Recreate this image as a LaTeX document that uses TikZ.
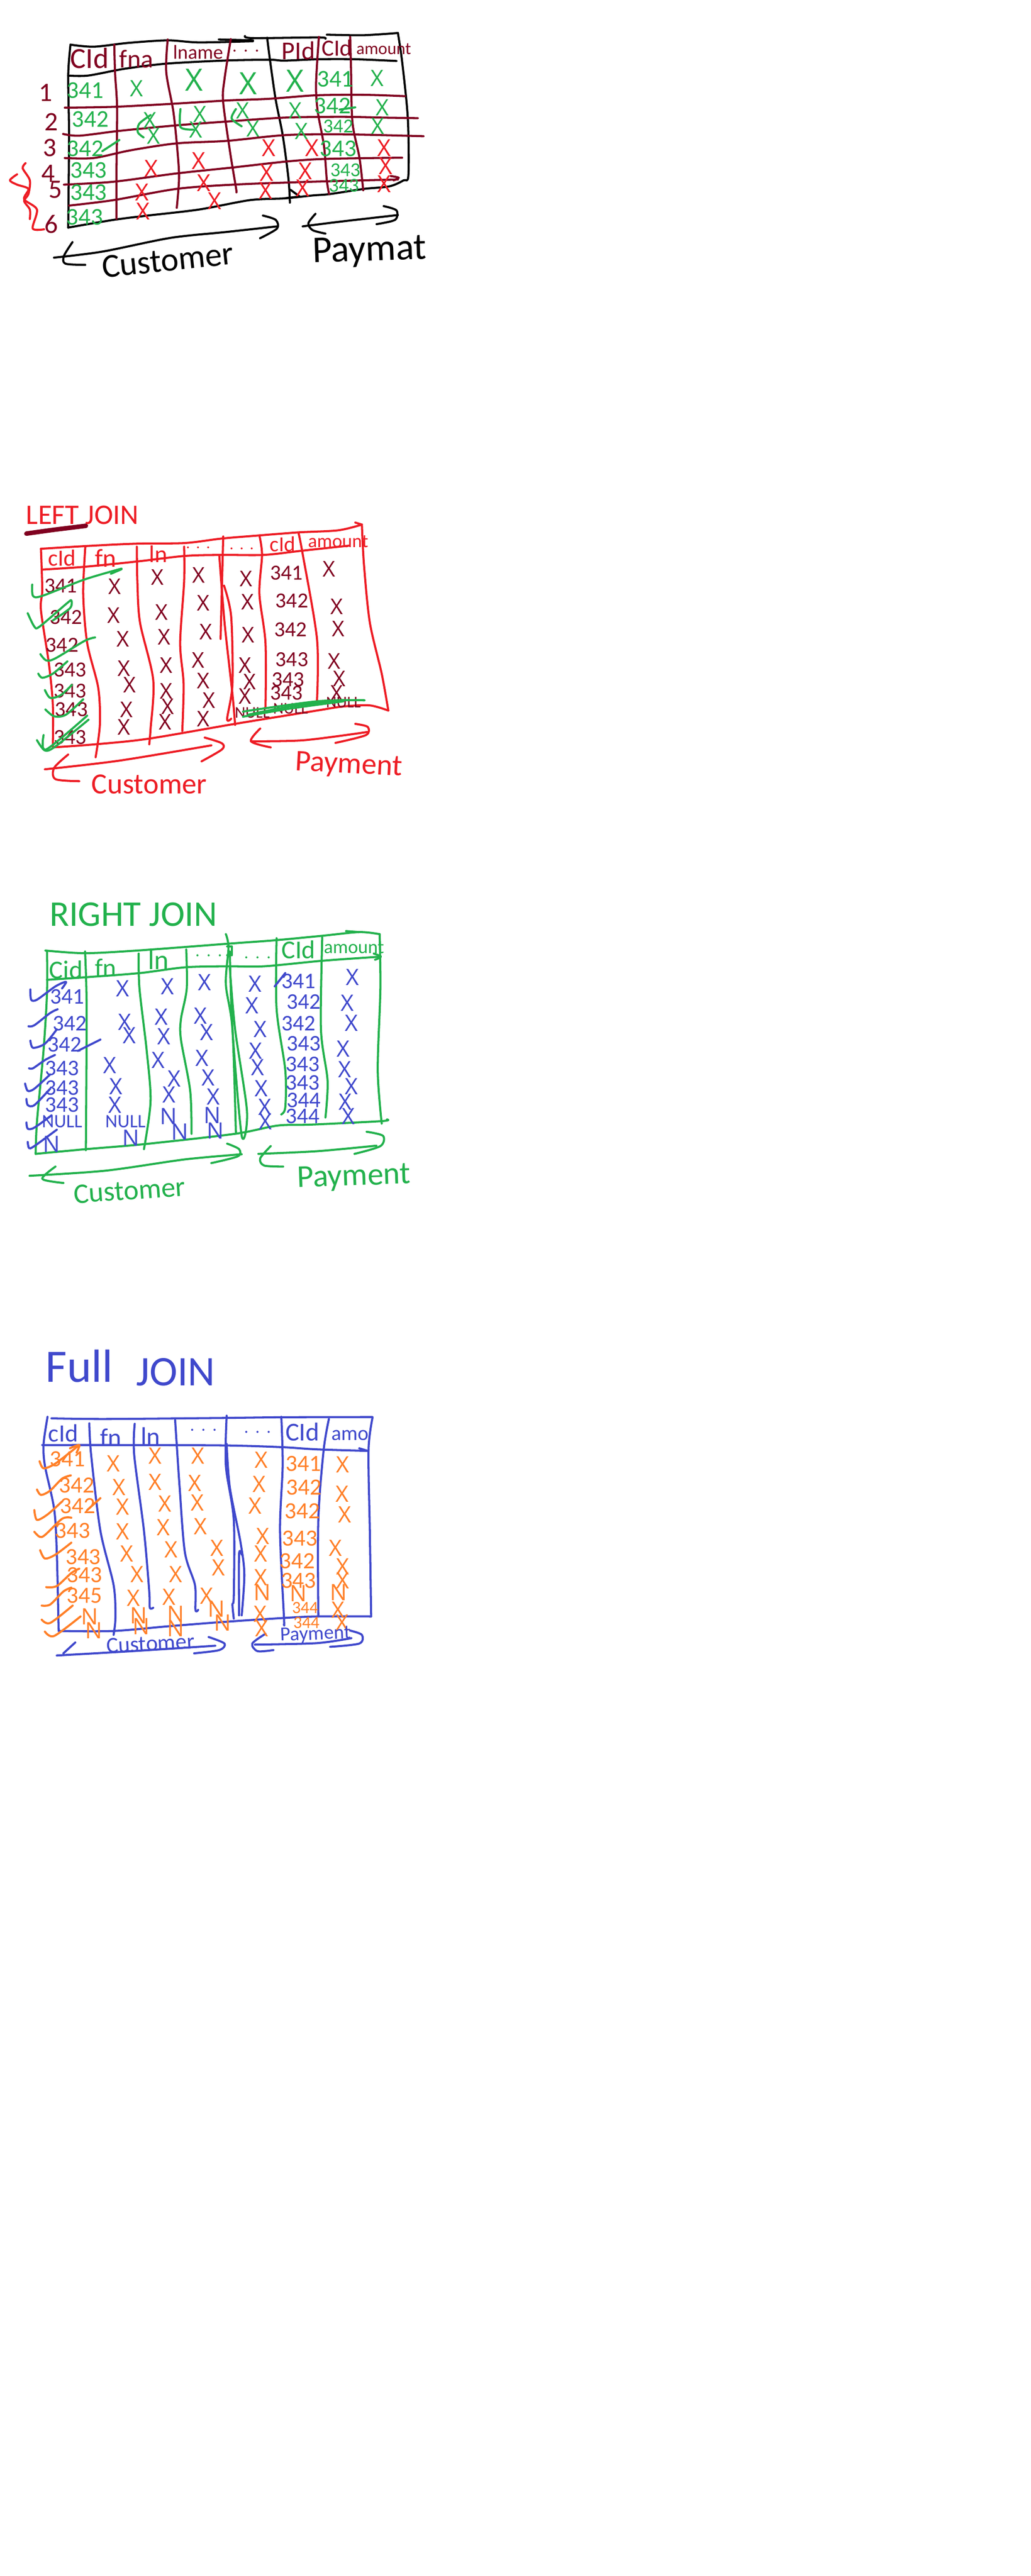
\documentclass[tikz,border=0pt]{standalone}
\usepackage{fontspec}
\setmainfont{Carlito}
\newfontfamily\xfont{Open Sans}
\definecolor{dr}{HTML}{800020}
\definecolor{gr}{HTML}{22B14C}
\definecolor{rd}{HTML}{ED1C24}
\definecolor{bl}{HTML}{3F48CC}
\definecolor{or}{HTML}{FF7F27}
\definecolor{bk}{HTML}{000000}
\tikzset{
  inkline/.style={line width=2.3pt,line cap=round,line join=round},
  lab/.style={inner sep=0pt,outer sep=0pt,font=\fontsize{\the\dimexpr#1pt*95/100\relax}{#1}\selectfont},
  xlab/.style={inner sep=0pt,outer sep=0pt,font=\xfont\fontsize{#1}{#1}\selectfont}
}
\newcommand\ink[2][]{\draw[inkline,#1] plot[smooth,tension=.5] coordinates {#2};}
\newcommand\straight[2][]{\draw[inkline,#1] plot coordinates {#2};}
\newcommand\labs[3]{\foreach \px/\py/\tx [count=\kk] in {#3} \node[#2] (#1\kk) at (\px,\py) {\tx};}
\newcommand\hdrs[3]{\foreach \px/\py/\sz/\tx [count=\kk] in {#3} \node[lab=\sz,#2] (#1\kk) at (\px,\py) {\tx};}
\newcommand\xs[3]{\foreach \px/\py [count=\kk] in {#3} \node[#2] (#1\kk) at (\px,\py) {X};}
\newcommand\dd{.\hspace{.4em}.\hspace{.4em}.}
\begin{document}
\begin{tikzpicture}
\path[fill=white,use as bounding box] (0,0) rectangle (40,-100);
%% ---------- Section 1
\begin{scope}[shift={(0,-0.6)},x=0.011026cm,y=-0.006667cm]
\ink[bk]{(248,170)(330,182)(450,160)(590,145)(700,157)(890,150)}
\ink[bk]{(770,140)(890,145)}
\ink[bk]{(862,120)(890,132)(1120,128)(1145,135)}
\ink[bk]{(1150,112)(1280,115)(1400,102)}
\ink[bk]{(1400,102)(1415,270)(1435,600)(1437,930)(1420,960)(1370,995)(1280,1010)(1160,1040)(1100,1048)(1000,1065)(880,1075)(700,1130)(520,1165)(400,1190)(240,1235)}
\ink[bk]{(248,170)(240,350)(243,700)(240,1235)}
\ink[bk]{(240,350)(310,350)(440,310)(590,280)(800,262)(950,258)(1000,263)(1120,255)(1250,255)(1395,265)}
\ink[bk]{(940,130)(950,260)(970,490)(995,700)(1015,950)(1020,1090)}
\straight[bk]{(1022,1015)(1055,1055)}
\straight[bk]{(1000,1065)(1050,1055)}
\foreach \c in {
 {(402,170)(405,340)(412,540)(410,900)(410,1185)},
 {(590,140)(585,330)(610,560)(625,800)(630,950)(622,1120)},
 {(812,138)(790,370)(785,500)(810,800)(830,1000)(832,1030)},
 {(1122,125)(1112,400)(1118,560)(1140,760)(1150,960)(1158,1040)},
 {(1232,125)(1235,300)(1240,620)(1265,830)(1278,1018)},
 {(228,537)(400,532)(600,515)(800,495)(950,485)(1110,465)(1280,462)(1425,470)},
 {(222,690)(280,700)(420,672)(620,640)(820,615)(1000,595)(1200,590)(1350,595)(1470,598)},
 {(228,830)(330,830)(460,785)(620,745)(800,730)(1000,697)(1200,692)(1490,703)},
 {(225,985)(400,968)(620,920)(820,885)(1010,850)(1150,835)(1415,828)},
 {(243,1107)(400,1075)(620,1010)(820,985)(1100,968)(1400,955)},
 {(1375,935)(1403,945)(1385,960)}}
 {\draw[inkline,dr] plot[smooth,tension=.5] coordinates {\c};}
\hdrs{ah}{dr}{315/250/34/CId,480/255/30/fna,697/215/23/lname,865/205/20/\dd,1050/205/30/PId,1185/190/27/CId,1350/195/20/amount}
\labs{ar}{lab=31,dr}{160/450/1,180/620/2,175/770/3,170/920/4,195/1015/5,180/1215/6}
\labs{ag}{lab=28,gr}{300/435/341,318/605/342,300/775/342,312/900/343,312/1030/343,298/1175/343,1180/370/341,1170/525/342,1190/775/343}
\labs{ag2}{lab=23,gr}{1190/645/342,1215/900/343,1210/990/343}
\xs{ax}{xlab=25,gr}{480/425,1327/365,1040/555,1345/535,1330/645,528/610,540/700,703/575,690/665,855/555,890/660,1060/675}
\xs{az}{xlab=34,gr}{683/375,873/395,1038/380}
\xs{ay}{xlab=26,rd}{945/770,1098/770,1352/770,533/890,700/845,1357/875,938/915,1075/905,500/1030,718/975,935/1020,1065/1005,1352/980,503/1140,755/1080}
\ink[gr]{(530,580)(490,630)(485,680)(505,710)}
\ink[gr]{(635,545)(635,650)(680,665)}
\ink[gr]{(830,545)(815,600)(850,645)}
\ink[gr]{(360,790)(420,725)}
\ink[gr]{(1195,548)(1250,535)}
\ink[rd]{(90,860)(80,890)(105,960)(100,1040)(85,1080)(105,1130)(105,1185)}
\ink[rd]{(60,925)(35,960)(60,985)(100,1010)(85,1070)(130,1130)(115,1240)(155,1245)}
\ink[bk]{(190,1410)(360,1375)(600,1295)(800,1260)(975,1228)}
\ink[bk]{(925,1165)(970,1190)(975,1240)(915,1297)}
\ink[bk]{(255,1320)(225,1400)(230,1445)(300,1452)}
\ink[bk]{(1065,1228)(1200,1200)(1400,1162)}
\ink[bk]{(1110,1155)(1085,1210)(1100,1250)(1145,1270)}
\ink[bk]{(1350,1110)(1395,1135)(1390,1190)(1325,1215)}
\node[lab=39,bk,rotate=6] (a-cust) at (590,1425) {Customer};
\node[lab=44,bk,rotate=2] (a-pay) at (1300,1375) {Paymat};
\end{scope}
%% ---------- Section 2
\begin{scope}[shift={(0,-18.6)},x=0.010256cm,y=-0.007949cm]
\node[lab=33,rd] (b-title) at (312,175) {LEFT JOIN};
\ink[dr,line width=5pt]{(100,266)(200,248)(325,228)}
\foreach \c in {
 {(155,340)(350,325)(520,315)(700,312)(840,290)(980,275)(1130,260)(1280,250)(1370,222)},
 {(1345,212)(1370,222)},
 {(155,340)(160,540)(155,640)(185,900)(200,1100)(200,1305)},
 {(158,442)(320,428)(520,402)(700,375)(840,370)(1000,370)(1140,350)(1320,325)},
 {(1370,225)(1378,420)(1400,700)(1445,950)(1470,1130)},
 {(200,1310)(360,1295)(560,1268)(890,1195)(1200,1130)(1300,1110)(1400,1105)(1470,1130)},
 {(323,330)(315,560)(330,800)(372,1020)(378,1200)(362,1358)},
 {(518,330)(520,500)(530,700)(580,980)(570,1220)(565,1295)},
 {(697,330)(697,500)(682,800)(695,1000)(690,1230)},
 {(845,280)(835,780)},
 {(830,370)(850,700)(880,1050)(890,1200)},
 {(848,520)(875,670)(880,1000)(860,1170)(875,1170)},
 {(982,275)(992,370)(982,560)(1005,800)(1005,1120)},
 {(1130,262)(1145,360)(1200,780)(1200,1080)},
 {(170,1417)(450,1375)(800,1300)},
 {(775,1262)(840,1290)(840,1320)(763,1378)},
 {(258,1345)(205,1410)(210,1465)(300,1475)},
 {(950,1280)(1150,1275)(1390,1235)},
 {(985,1218)(950,1280)(1025,1310)},
 {(1345,1195)(1392,1210)(1385,1250)(1270,1288)}}
 {\draw[inkline,rd] plot[smooth,tension=.5] coordinates {\c};}
\hdrs{bh}{rd}{235/385/27/cId,400/385/30/fn,600/365/28/ln,750/335/18/\dd,915/340/18/\dd,1070/318/25/cId,1280/305/22/amount}
\labs{bn}{lab=25,dr}{230/520/341,250/675/342,235/810/342,265/930/343,265/1035/343,270/1125/343,265/1260/343,1085/458/341,1105/595/342,1100/735/342,1105/880/343,1090/980/343,1085/1045/343}
\labs{bu}{lab=19,dr}{955/1140/NULL,1100/1120/NULL,1300/1090/NULL}
\xs{bx}{xlab=24,dr}{435/525,430/665,465/780,470/925,490/1005,480/1125,470/1210,597/480,612/650,622/770,630/910,630/1035,635/1110,625/1185,752/470,770/605,780/745,750/885,770/985,792/1080,770/1170,932/487,937/600,940/760,928/910,945/990,928/1060,1245/440,1275/622,1280/730,1265/890,1285/975,1275/1045}
\foreach \c in {
 {(122,515)(125,570)(160,570)(320,490)(460,437)},
 {(420,462)(460,440)},
 {(105,655)(130,720)(150,720)(250,610)(270,592)(265,630)(200,690)},
 {(153,855)(175,885)(210,875)(320,790)(360,773)},
 {(145,950)(160,970)(200,950)(255,890)},
 {(170,1030)(190,1068)(230,1055)(272,1005)},
 {(172,1125)(205,1158)(250,1150)(315,1075)},
 {(140,1275)(170,1325)(210,1305)(335,1175)},
 {(165,1250)(175,1320)(330,1155)},
 {(920,1135)(1200,1085)(1380,1080)},
 {(920,1160)(1100,1120)(1300,1085)},
 {(940,1150)(1100,1110)(1300,1078)}}
 {\draw[inkline,gr] plot[smooth,tension=.5] coordinates {\c};}
\node[lab=34,rd,rotate=0] (b-cust) at (565,1490) {Customer};
\node[lab=35,rd,rotate=-3] (b-pay) at (1320,1400) {Payment};
\end{scope}
%% ---------- Section 3
\begin{scope}[shift={(0,-33.6)},x=0.010256cm,y=-0.007949cm]
\node[lab=42,gr] (c-title) at (505,240) {RIGHT JOIN};
\foreach \c in {
 {(172,415)(320,428)(520,415)(860,382)(1040,365)(1220,343)(1360,325)(1437,335)},
 {(1310,320)(1360,325)},
 {(178,420)(178,620)(165,900)(140,1250)(135,1408)},
 {(1437,335)(1440,600)(1430,1000)(1445,1260)},
 {(178,558)(330,545)(530,525)(700,497)(860,492)(1000,492)(1220,465)(1440,445)},
 {(1415,430)(1442,445)(1420,460)},
 {(135,1408)(325,1385)(550,1360)(890,1310)(1050,1270)(1180,1265)(1445,1248)(1465,1240)},
 {(322,420)(328,700)(325,1390)},
 {(525,430)(528,600)(555,900)(570,1150)(545,1385)},
 {(705,410)(707,600)(685,750)(685,850)(720,1100)(725,1310)},
 {(855,335)(865,400)(855,580)(880,800)(893,1305)},
 {(870,420)(880,800)(915,1320)(935,1200)(890,800)(870,500)},
 {(1047,355)(1047,700)(1080,1000)(1080,1180)(1065,1215)},
 {(1220,345)(1215,800)(1240,1050)(1232,1230)},
 {(112,1515)(400,1490)(700,1435)(915,1410)},
 {(860,1358)(905,1385)(900,1420)(800,1453)},
 {(210,1470)(160,1530)(240,1550)},
 {(978,1408)(1200,1395)(1425,1368)},
 {(1025,1370)(985,1430)(1000,1465)(1072,1470)},
 {(1388,1300)(1450,1320)(1440,1370)(1342,1408)}}
 {\draw[inkline,gr] plot[smooth,tension=.5] coordinates {\c};}
\straight[gr]{(860,395)(878,395)(878,438)(860,438)}
\hdrs{ch}{gr}{250/510/30/Cid,400/500/30/fn,600/460/32/ln,790/440/20/\dd,975/450/20/\dd,1130/410/30/CId,1340/400/22/amount}
\labs{cn}{lab=26,bl}{255/640/341,265/770/342,245/875/342,235/990/343,235/1085/343,235/1170/343,1130/565/341,1150/665/342,1130/770/342,1150/870/343,1145/970/343,1145/1060/343,1150/1145/344,1145/1225/344}
\labs{cu}{lab=22,bl}{235/1250/NULL,475/1250/NULL}
\labs{cm}{xlab=25,bl}{195/1360/N,495/1330/N,638/1225/N,680/1300/N,803/1220/N,815/1295/N}
\xs{cx}{xlab=25,bl}{465/600,472/765,490/830,415/975,440/1080,435/1170,635/590,610/740,620/835,600/950,660/1040,640/1120,775/570,760/735,782/815,765/940,788/1035,808/1130,965/578,955/685,985/800,968/905,975/985,990/1090,1003/1180,1005/1250,1335/545,1315/670,1330/770,1300/895,1305/995,1330/1080,1308/1155,1318/1225}
\foreach \c in {
 {(115,605)(118,655)(140,655)(210,590)(250,568)(235,600)},
 {(108,785)(130,780)(190,720)(218,702)},
 {(115,855)(125,890)(170,870)(215,800)},
 {(110,990)(125,990)(170,950)(208,925)},
 {(95,1065)(105,1100)(130,1090)(190,1020)},
 {(100,1140)(105,1170)(130,1170)(190,1090)},
 {(100,1255)(105,1285)(130,1280)(195,1220)},
 {(105,1350)(110,1380)(130,1370)(215,1290)},
 {(1040,590)(1080,525)},
 {(295,905)(380,850)}}
 {\draw[inkline,bl] plot[smooth,tension=.5] coordinates {\c};}
\node[lab=33,gr,rotate=4] (c-cust) at (490,1587) {Customer};
\node[lab=37,gr,rotate=2] (c-pay) at (1340,1525) {Payment};
\end{scope}
%% ---------- Section 4
\begin{scope}[shift={(0,-51)},x=0.010256cm,y=-0.008418cm]
\node[lab=54,bl] (d-title1) at (300,240) {Full};
\node[lab=49,bl] (d-title2) at (665,270) {JOIN};
\foreach \c in {
 {(195,482)(400,485)(860,480)(1065,477)(1410,476)},
 {(180,475)(165,600)(170,700)(205,900)(215,1100)(222,1460)},
 {(1410,480)(1395,630)(1400,1000)(1405,1395)},
 {(160,605)(500,605)(860,607)(1070,615)(1200,625)(1395,632)},
 {(1360,620)(1392,632)},
 {(222,1462)(430,1462)(640,1440)(850,1420)(1075,1402)(1200,1395)(1405,1395)},
 {(338,505)(345,650)(380,1000)(430,1250)(437,1400)(430,1480)},
 {(510,507)(508,650)(545,1000)(565,1280)(567,1355)(580,1355)},
 {(663,490)(680,800)(700,1100)(738,1250)(740,1365)(750,1365)},
 {(858,470)(855,700)(885,950)(885,1300)(880,1340)(885,1405)},
 {(858,600)(870,800)(910,1050)(925,1200)(915,1390)},
 {(905,1390)(905,1110)(915,1110)},
 {(1065,475)(1070,700)(1060,1000)(1075,1400)(1075,1430)},
 {(1245,485)(1225,630)(1205,950)(1205,1395)},
 {(240,1565)(285,1515)},
 {(215,1575)(500,1555)(815,1530)},
 {(790,1490)(850,1520)(830,1550)(735,1565)},
 {(965,1525)(1200,1518)(1330,1495)},
 {(1005,1475)(955,1520)(975,1555)(1035,1550)},
 {(1325,1460)(1370,1480)(1360,1520)(1250,1535)}}
 {\draw[inkline,bl] plot[smooth,tension=.5] coordinates {\c};}
\hdrs{dh}{bl}{240/550/29/cId,420/570/30/fn,570/565/30/ln,770/535/20/\dd,975/545/20/\dd,1145/545/30/CId,1325/560/24/amo}
\labs{dn}{lab=27,or}{255/670/341,290/790/342,295/885/342,275/1000/343,315/1120/343,320/1205/343,320/1300/345,1148/690/341,1150/800/342,1145/910/342,1135/1035/343,1125/1140/342,1130/1230/343}
\labs{dm}{xlab=25,or}{340/1395/N,355/1460/N,525/1390/N,535/1440/N,665/1385/N,665/1450/N,820/1360/N,842/1425/N,992/1285/N,1130/1290/N,1282/1285/N}
\labs{dp}{lab=20,or}{1155/1355/344,1160/1425/344}
\xs{dx}{xlab=25,or}{430/690,450/800,465/890,465/1005,480/1105,520/1200,505/1310,587/655,587/775,625/875,618/985,648/1088,665/1200,640/1305,750/655,738/780,747/870,760/980,822/1080,828/1170,783/1300,990/675,982/785,965/885,995/1025,988/1105,988/1215,985/1385,992/1450,1298/695,1295/830,1305/925,1270/1080,1297/1165,1297/1230,1280/1365,1295/1425}
\foreach \c in {
 {(150,680)(165,712)(210,690)(300,605)},
 {(265,620)(300,605)(290,640)},
 {(140,810)(155,835)(190,815)(235,760)(268,745)},
 {(130,905)(140,950)(180,925)(235,865)},
 {(130,1005)(150,1028)(170,1020)(235,945)(270,940)},
 {(152,1090)(170,1128)(210,1110)(270,1055)},
 {(175,1260)(215,1255)(270,1195)(300,1175)},
 {(158,1345)(190,1340)(240,1280)(270,1262)},
 {(158,1410)(190,1425)(275,1345)},
 {(170,1465)(205,1485)(305,1395)},
 {(330,905)(380,850)}}
 {\draw[inkline,or] plot[smooth,tension=.5] coordinates {\c};}
\node[lab=26,bl,rotate=3] (d-cust) at (570,1520) {Customer};
\node[lab=23,bl,rotate=2] (d-pay) at (1195,1480) {Payment};
\end{scope}
\end{tikzpicture}
\end{document}
